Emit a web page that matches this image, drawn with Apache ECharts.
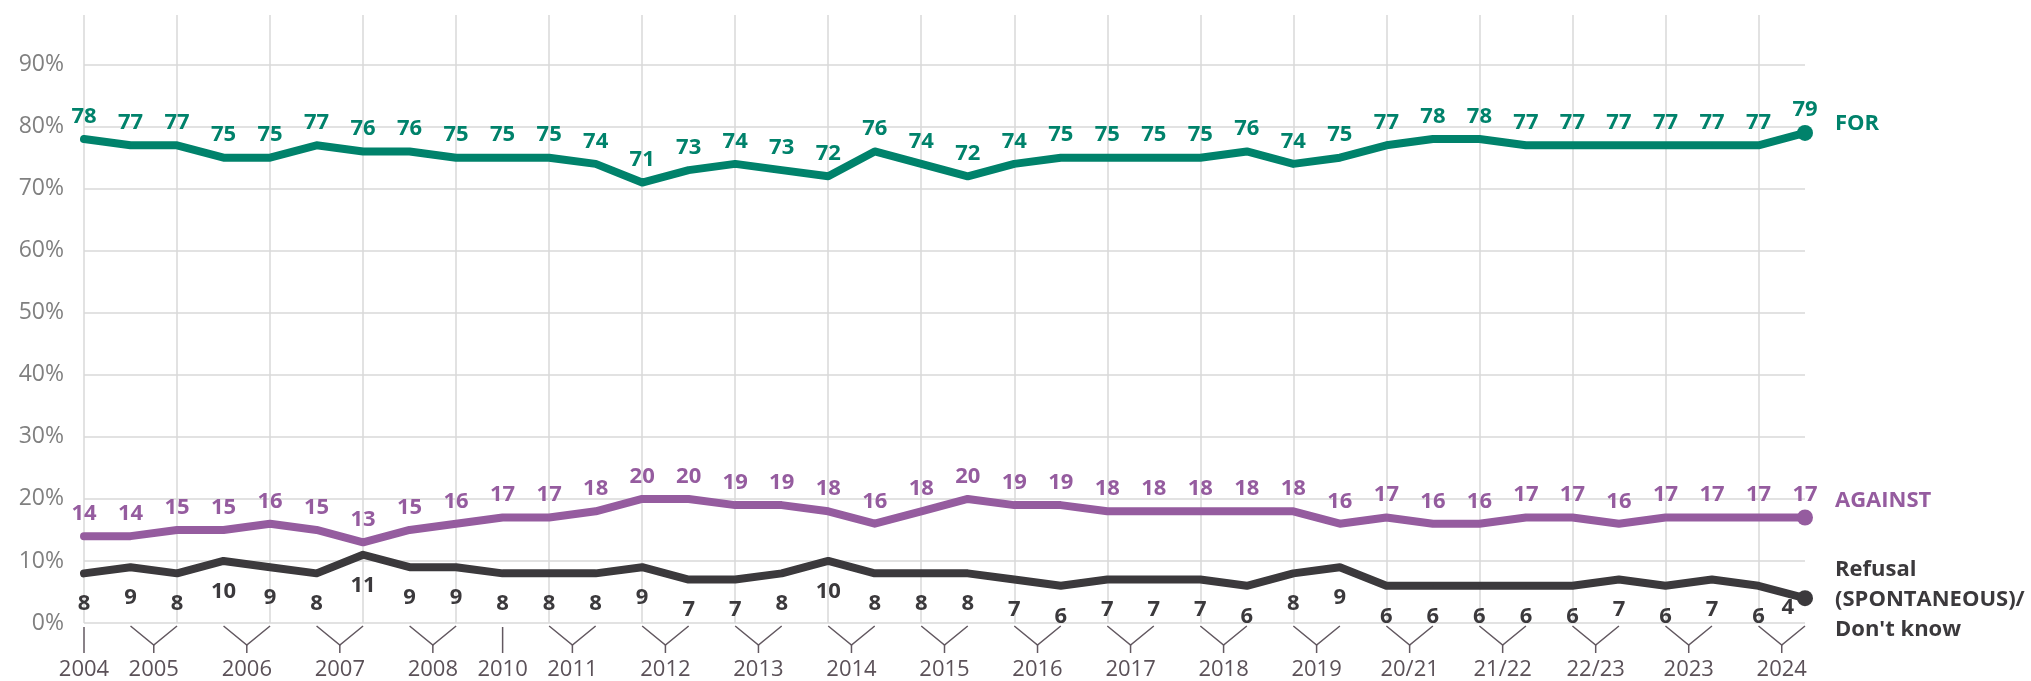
<!DOCTYPE html>
<html>
<head>
<meta charset="utf-8">
<script src="https://cdn.jsdelivr.net/npm/echarts@6/dist/echarts.min.js"></script>
<style>
  html, body { margin: 0; padding: 0; background: #fff; }
  #chart { width: 2031px; height: 681px; }
</style>
</head>
<body>
<div id="chart"></div>
<script>
// survey waves, grouped under one year label when they share a prefix
const categories = [
    '2004',
    '2005 (1)', '2005 (2)', '2006 (1)', '2006 (2)', '2007 (1)', '2007 (2)', '2008 (1)', '2008 (2)',
    '2010',
    '2011 (1)', '2011 (2)', '2012 (1)', '2012 (2)', '2013 (1)', '2013 (2)', '2014 (1)', '2014 (2)',
    '2015 (1)', '2015 (2)', '2016 (1)', '2016 (2)', '2017 (1)', '2017 (2)', '2018 (1)', '2018 (2)',
    '2019 (1)', '2019 (2)', '20/21 (1)', '20/21 (2)', '21/22 (1)', '21/22 (2)', '22/23 (1)', '22/23 (2)',
    '2023 (1)', '2023 (2)', '2024 (1)', '2024 (2)'
];
const forValues = [78, 77, 77, 75, 75, 77, 76, 76, 75, 75, 75, 74, 71, 73, 74, 73, 72, 76, 74, 72,
    74, 75, 75, 75, 75, 76, 74, 75, 77, 78, 78, 77, 77, 77, 77, 77, 77, 79];
const againstValues = [14, 14, 15, 15, 16, 15, 13, 15, 16, 17, 17, 18, 20, 20, 19, 19, 18, 16, 18, 20,
    19, 19, 18, 18, 18, 18, 18, 16, 17, 16, 16, 17, 17, 16, 17, 17, 17, 17];
const refusalValues = [8, 9, 8, 10, 9, 8, 11, 9, 9, 8, 8, 8, 9, 7, 7, 8, 10, 8, 8, 8,
    7, 6, 7, 7, 7, 6, 8, 9, 6, 6, 6, 6, 6, 7, 6, 7, 6, 4];
const yTicks = [0, 10, 20, 30, 40, 50, 60, 70, 80, 90];

const FONT = '"Open Sans", "Segoe UI", sans-serif';
const GREEN = '#00826b';
const PURPLE = '#955c9f';
const DARK = '#3b393c';
const GRID = '#d9d9d9';
const last = categories.length - 1;

// year groups for the bracket labels under the axis
const groups = [];
categories.forEach((c, i) => {
    const key = c.split(' ')[0];
    const g = groups[groups.length - 1];
    if (g && g.label === key) {
        g.end = i;
    } else {
        groups.push({label: key, start: i, end: i});
    }
});

const chart = echarts.init(document.getElementById('chart'), null, {renderer: 'canvas'});

function lineSeries(name, values, color, pos, dist, endText, endOffset) {
    // the end dot is bigger, pull its label back to the same spot as the others
    const lastLabel = pos === 'top'
        ? {offset: [0, 7]}
        : {position: 'left', distance: 3, offset: [0, 10]};
    return {
        name: name,
        type: 'line',
        data: values.map((v, i) => i === last ? {value: v, label: lastLabel} : v),
        symbol: 'circle',
        symbolSize: (v, p) => p.dataIndex === last ? 16 : 1,
        showAllSymbol: true,
        lineStyle: {width: 8, color: color, cap: 'round', join: 'round'},
        itemStyle: {color: color},
        label: {
            show: true,
            position: pos,
            distance: dist,
            color: color,
            fontSize: 22,
            fontWeight: 'bold',
            fontFamily: FONT
        },
        endLabel: {
            show: true,
            formatter: endText,
            distance: 30,
            offset: endOffset,
            color: color,
            fontSize: 22,
            fontWeight: 'bold',
            fontFamily: FONT,
            lineHeight: 30,
            align: 'left'
        },
        emphasis: {disabled: true},
        silent: true,
        z: 3
    };
}

const options = {
    animation: false,
    grid: {
        left: 84,
        right: 226,
        top: 15,
        bottom: 58,
        containLabel: false,
        outerBoundsMode: 'none'
    },
    xAxis: {
        type: 'category',
        data: categories,
        boundaryGap: false,
        axisLine: {show: false},
        axisTick: {show: false},
        axisLabel: {show: false},
        splitLine: {
            show: true,
            lineStyle: {color: GRID, width: 1.5}
        }
    },
    yAxis: {
        type: 'value',
        min: 0,
        max: 98,
        interval: 10,
        axisLine: {show: false},
        axisTick: {show: false},
        axisLabel: {
            margin: 20,
            fontSize: 23,
            fontFamily: FONT,
            color: '#808080',
            formatter: v => yTicks.indexOf(v) >= 0 ? v + '%' : ''
        },
        splitLine: {
            show: true,
            lineStyle: {
                color: yTicks.map(() => GRID).concat(['rgba(0,0,0,0)']),
                width: 1.5
            }
        }
    },
    series: [
        lineSeries('FOR', forValues, GREEN, 'top', 11, 'FOR', [0, -9]),
        lineSeries('AGAINST', againstValues, PURPLE, 'top', 11, 'AGAINST', [0, -17]),
        lineSeries('Refusal', refusalValues, DARK, 'bottom', 19, "Refusal\n(SPONTANEOUS)/\nDon't know", [0, 2]),
        {
            type: 'custom',
            clip: false,
            silent: true,
            data: groups.map(g => [g.start, 0]),
            renderItem: (params, api) => {
                const g = groups[params.dataIndex];
                const p1 = api.coord([g.start, 0]);
                const p2 = api.coord([g.end, 0]);
                const y0 = p1[1];
                const xm = (p1[0] + p2[0]) / 2;
                const stroke = {stroke: '#625860', lineWidth: 1.5, fill: null};
                const children = [];
                if (g.start === g.end) {
                    children.push({type: 'line', shape: {x1: xm, y1: y0 + 4, x2: xm, y2: y0 + 30}, style: stroke});
                } else {
                    children.push({type: 'polyline', shape: {points: [[p1[0], y0 + 3], [xm, y0 + 22], [p2[0], y0 + 3]]}, style: stroke});
                    children.push({type: 'line', shape: {x1: xm, y1: y0 + 22, x2: xm, y2: y0 + 30}, style: stroke});
                }
                children.push({
                    type: 'text',
                    style: {
                        text: g.label,
                        x: xm,
                        y: y0 + 47,
                        align: 'center',
                        verticalAlign: 'middle',
                        font: '22px ' + FONT,
                        fill: '#5b5158'
                    }
                });
                return {type: 'group', children: children};
            }
        }
    ]
};
chart.setOption(options);
</script>
</body>
</html>
